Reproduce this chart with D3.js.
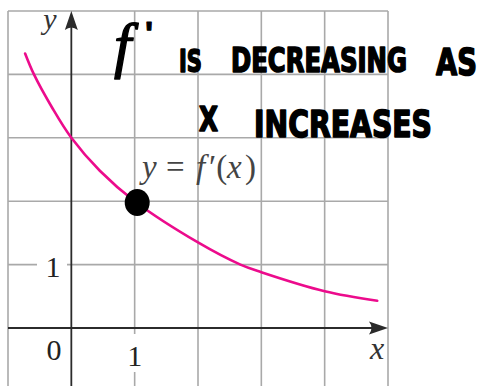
<!DOCTYPE html>
<html>
<head>
<meta charset="utf-8">
<script src="https://cdn.jsdelivr.net/npm/d3@7"></script>
<style>
  html, body { margin: 0; padding: 0; background: #fff; }
  svg { display: block; }
</style>
</head>
<body>
<svg id="chart" width="484" height="386"></svg>
<script>
// Grid lines (data units)
const xGrid = [-1, 0, 1, 2, 3, 4, 5];
const yGrid = [1, 2, 3, 4, 5];

// Sampled points of the curve y = f'(x)
const curveX = [-0.73, -0.59, -0.30, 0, 0.45, 1, 2, 2.67, 3, 4, 4.83];
const curveY = [4.33, 4.0, 3.47, 3.0, 2.48, 2.0, 1.35, 1.0, 0.88, 0.58, 0.43];

// Highlighted point on the curve
const dotX = [1.04];
const dotY = [1.98];

// Tick labels
const xTickValues = [1];
const xTickLabels = ["1"];
const yTickValues = [1];
const yTickLabels = ["1"];

const W = 484, H = 386;
const svg = d3.select("#chart");

const x = d3.scaleLinear().domain([-1, 5]).range([8, 388]);
const y = d3.scaleLinear().domain([0, 5]).range([328, 11]);

const gridColor = "#a9a9a9";
const axisColor = "#2b2b2b";
const serif = "'Liberation Serif', 'DejaVu Serif', serif";

// grid
const grid = svg.append("g").attr("stroke", gridColor).attr("stroke-width", 1.6);
grid.selectAll("line.v").data(xGrid.filter(d => d !== 0)).join("line")
  .attr("class", "v")
  .attr("x1", d => x(d)).attr("x2", d => x(d))
  .attr("y1", y(5)).attr("y2", H);
grid.selectAll("line.h").data(yGrid).join("line")
  .attr("class", "h")
  .attr("x1", x(-1)).attr("x2", x(5))
  .attr("y1", d => y(d)).attr("y2", d => y(d));

// axes
const axes = svg.append("g").attr("stroke", axisColor).attr("stroke-width", 1.8);
axes.append("line").attr("x1", x(-1)).attr("x2", x(5) - 10).attr("y1", y(0)).attr("y2", y(0));
axes.append("line").attr("x1", x(0)).attr("x2", x(0)).attr("y1", y(5) + 10).attr("y2", H);

// arrowheads
const ax = x(5), ay = y(0);
svg.append("path")
  .attr("d", `M${ax},${ay} L${ax - 19},${ay - 6.5} Q${ax - 14},${ay} ${ax - 19},${ay + 6.5} Z`)
  .attr("fill", axisColor);
const bx = x(0), by = y(5);
svg.append("path")
  .attr("d", `M${bx},${by} L${bx - 6.5},${by + 19} Q${bx},${by + 14} ${bx + 6.5},${by + 19} Z`)
  .attr("fill", axisColor);

// tick labels with white backing that interrupts the grid line
const xl = svg.append("g");
xTickValues.forEach((v, i) => {
  xl.append("rect").attr("x", x(v) - 9).attr("y", 334).attr("width", 18).attr("height", 38).attr("fill", "#fff");
  xl.append("text").attr("x", x(v)).attr("y", 366).attr("text-anchor", "middle")
    .attr("font-family", serif).attr("font-size", 30).attr("fill", "#222").text(xTickLabels[i]);
});
yTickValues.forEach((v, i) => {
  xl.append("rect").attr("x", 37).attr("y", y(v) - 8).attr("width", 30).attr("height", 16).attr("fill", "#fff");
  xl.append("text").attr("x", 53).attr("y", y(v) + 12).attr("text-anchor", "middle")
    .attr("font-family", serif).attr("font-size", 30).attr("fill", "#222").text(yTickLabels[i]);
});
svg.append("text").attr("x", 54).attr("y", 360).attr("text-anchor", "middle")
  .attr("font-family", serif).attr("font-size", 30).attr("fill", "#222").text("0");

// axis names
svg.append("text").attr("x", 50).attr("y", 29).attr("text-anchor", "middle")
  .attr("font-family", serif).attr("font-style", "italic").attr("font-size", 30).attr("fill", "#333").text("y");
svg.append("text").attr("x", 377).attr("y", 359).attr("text-anchor", "middle")
  .attr("font-family", serif).attr("font-style", "italic").attr("font-size", 32).attr("fill", "#333").text("x");

// curve
const pts = curveX.map((d, i) => [d, curveY[i]]);
svg.append("path")
  .datum(pts)
  .attr("fill", "none")
  .attr("stroke", "#ec0b8c")
  .attr("stroke-width", 2.6)
  .attr("stroke-linecap", "round")
  .attr("d", d3.line().x(d => x(d[0])).y(d => y(d[1])).curve(d3.curveCatmullRom.alpha(0.5)));

// curve label, glyphs placed individually
const lab = svg.append("text").attr("y", 178)
  .attr("font-family", serif).attr("font-size", 33).attr("fill", "#444");
lab.append("tspan").attr("x", 142).attr("font-style", "italic").text("y");
lab.append("tspan").attr("x", 166).text("=");
lab.append("tspan").attr("x", 196).attr("font-style", "italic").text("f");
lab.append("tspan").attr("x", 209).text("′(");
lab.append("tspan").attr("x", 227).attr("font-style", "italic").text("x");
lab.append("tspan").attr("x", 245).text(")");

// point
svg.selectAll("ellipse.dot").data(dotX).join("ellipse")
  .attr("class", "dot")
  .attr("cx", d => x(d)).attr("cy", (d, i) => y(dotY[i]))
  .attr("rx", 12.5).attr("ry", 13.5)
  .attr("fill", "#000");

// handwritten note; each word is squeezed horizontally to its span
const hand = "'Liberation Sans Narrow', 'DejaVu Sans Condensed', sans-serif";
const note = svg.append("g").attr("fill", "#000").attr("stroke", "#000")
  .attr("stroke-width", 1.6).attr("stroke-linejoin", "round")
  .attr("font-family", hand).attr("font-weight", 700);
function word(t, x0, x1, base, size) {
  const el = note.append("text").attr("x", 0).attr("y", 0).attr("font-size", size).text(t);
  const w = el.node().getComputedTextLength() || (x1 - x0);
  el.attr("transform", `translate(${x0},${base}) scale(${(x1 - x0 - 2) / w},1)`);
}
note.append("text").attr("x", 114).attr("y", 66).attr("font-size", 62)
  .attr("font-family", serif).attr("font-style", "italic").attr("font-weight", 400)
  .attr("stroke-width", 1.4).text("f");
note.append("text").attr("x", 145).attr("y", 45).attr("font-size", 34)
  .attr("font-family", "'Liberation Sans', sans-serif").attr("stroke-width", 1).text("'");
word("IS", 179, 204, 72, 32);
word("DECREASING", 231, 409, 72, 33);
word("AS", 436, 479, 75, 38);
word("X", 199, 220, 131, 34);
word("INCREASES", 254, 434, 137, 38);
</script>
</body>
</html>
